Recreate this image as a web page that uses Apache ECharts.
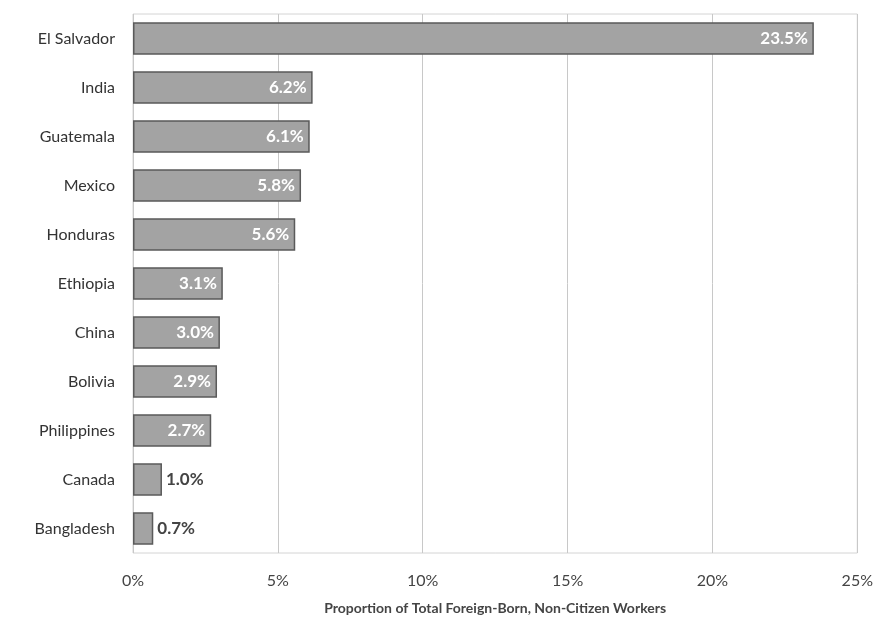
<!DOCTYPE html>
<html>
<head>
<meta charset="utf-8">
<script src="https://cdn.jsdelivr.net/npm/echarts@6/dist/echarts.min.js"></script>
<style>
  html, body { margin: 0; padding: 0; background: #fff; }
  #chart { width: 876px; height: 621px; }
</style>
</head>
<body>
<div id="chart"></div>
<script>
  // categories top to bottom
  var countries = ['El Salvador', 'India', 'Guatemala', 'Mexico', 'Honduras', 'Ethiopia',
    'China', 'Bolivia', 'Philippines', 'Canada', 'Bangladesh']
  // share of foreign-born non-citizen workers, percent
  var shares = [23.5, 6.2, 6.1, 5.8, 5.6, 3.1, 3.0, 2.9, 2.7, 1.0, 0.7]
  var tickLabels = ['0%', '5%', '10%', '15%', '20%', '25%']

  var chart = echarts.init(document.getElementById('chart'))

  // small bars get their label outside
  var barData = shares.map(function (v) {
    var inside = v >= 2
    return {
      value: v,
      label: {
        position: inside ? 'insideRight' : 'right',
        color: inside ? '#fff' : '#444',
        distance: inside ? 6 : 4
      }
    }
  })

  var option = {
    backgroundColor: '#fff',
    textStyle: { fontFamily: 'Lato' },
    grid: { left: 133, right: 18, top: 14, bottom: 68, show: true, borderColor: '#d4d4d4', borderWidth: 1 },
    xAxis: {
      type: 'value',
      min: 0,
      max: 25,
      interval: 5,
      name: 'Proportion of Total Foreign-Born, Non-Citizen Workers',
      nameLocation: 'middle',
      nameGap: 48,
      nameTextStyle: { fontSize: 14, fontWeight: 'bold', color: '#444' },
      axisLine: { show: false },
      axisTick: { show: false },
      axisLabel: {
        fontSize: 16, color: '#444', margin: 20,
        formatter: function (v) { return tickLabels[v / 5] }
      },
      splitLine: { lineStyle: { color: '#c8c8c8' } }
    },
    yAxis: {
      type: 'category',
      inverse: true,
      data: countries,
      axisLine: { show: false },
      axisTick: { show: false },
      axisLabel: { fontSize: 16, color: '#333', margin: 18 }
    },
    series: [{
      type: 'bar',
      data: barData,
      barCategoryGap: '34%',
      itemStyle: { color: '#a3a3a3', borderColor: '#5a5a5a', borderWidth: 1.5 },
      label: {
        show: true,
        fontSize: 17,
        fontWeight: 'bold',
        formatter: function (p) { return p.value.toFixed(1) + '%' }
      }
    }]
  }
  chart.setOption(option)
</script>
</body>
</html>
